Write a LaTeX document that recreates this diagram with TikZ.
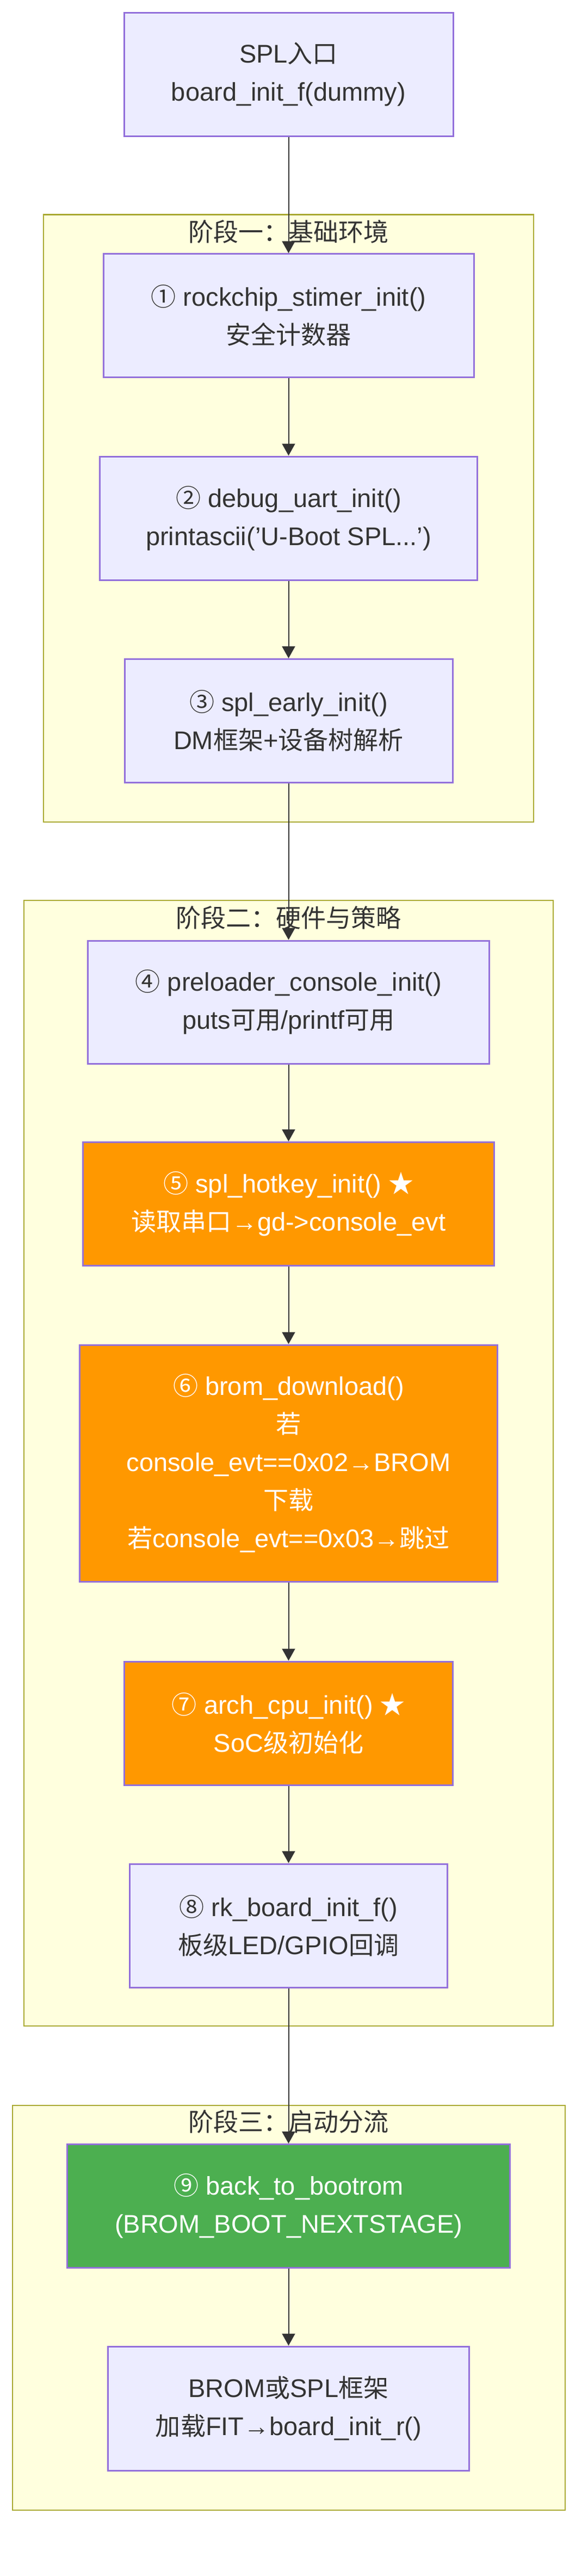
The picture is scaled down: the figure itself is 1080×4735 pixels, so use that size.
\documentclass[tikz,border=0pt]{standalone}
\usepackage{fontspec}
\setmainfont{Liberation Sans}
\newfontfamily\cjk{Noto Sans CJK SC}[Scale=0.98]
\usetikzlibrary{arrows.meta}
\definecolor{nfill}{HTML}{ECECFF}
\definecolor{nborder}{HTML}{9370DB}
\definecolor{cfill}{HTML}{FFFFDE}
\definecolor{cborder}{HTML}{AAAA33}
\definecolor{orangec}{HTML}{FF9800}
\definecolor{greenc}{HTML}{4CAF50}
\definecolor{tcol}{HTML}{333333}
\definecolor{ecol}{HTML}{333333}
\tikzset{
  box/.style={draw=nborder, line width=3pt, fill=nfill, text=tcol, align=center,
    inner sep=0pt, font=\fontsize{47}{70}\selectfont},
  hot/.style={box, fill=orangec, text=white},
  done/.style={box, fill=greenc, text=white},
  cluster/.style={draw=cborder, line width=2.5pt, fill=cfill, inner sep=0pt},
  ctitle/.style={text=tcol, inner sep=0pt, font=\fontsize{47}{56}\selectfont\cjk},
  flow/.style={draw=ecol, line width=2pt, -{Triangle[length=22pt,width=24pt]}},
}
\begin{document}
\begin{tikzpicture}[x=1pt,y=-1pt]
\useasboundingbox[fill=white] (0,0) rectangle (1080,4735);
% clusters
\node[cluster, minimum width=901pt, minimum height=1116.5pt] (stage1) at (530.5,952.75) {};
\node[cluster, minimum width=973pt, minimum height=2069pt] (stage2) at (530.5,2689.5) {};
\node[cluster, minimum width=1016pt, minimum height=744pt] (stage3) at (531,4242) {};
\node[ctitle] (t1) at (530.5,426) {阶段一：基础环境};
\node[ctitle] (t2) at (530.5,1687) {阶段二：硬件与策略};
\node[ctitle] (t3) at (530.5,3900) {阶段三：启动分流};
% nodes
\node[box, minimum width=605pt, minimum height=227pt] (start) at (530.5,136.5)
  {SPL{\cjk 入口}\\board\_init\_f(dummy)};
\node[box, minimum width=681pt, minimum height=227pt] (n1) at (530.5,580.3)
  {{\cjk ①} rockchip\_stimer\_init()\\{\cjk 安全计数器}};
\node[box, minimum width=694.5pt, minimum height=227pt] (n2) at (530.5,952.5)
  {{\cjk ②} debug\_uart\_init()\\printascii('U-Boot SPL...')};
\node[box, minimum width=603pt, minimum height=227pt] (n3) at (530.5,1325)
  {{\cjk ③} spl\_early\_init()\\DM{\cjk 框架}+{\cjk 设备树解析}};
\node[box, minimum width=738pt, minimum height=226pt] (n4) at (530.5,1842)
  {{\cjk ④} preloader\_console\_init()\\puts{\cjk 可用}/printf{\cjk 可用}};
\node[hot, minimum width=756pt, minimum height=227pt] (n5) at (530.5,2213)
  {{\cjk ⑤} spl\_hotkey\_init() {\cjk ★}\\{\cjk 读取串口}→gd->console\_evt};
\node[hot, minimum width=768.5pt, minimum height=435pt] (n6) at (530.5,2689.5)
  {{\cjk ⑥} brom\_download()\\{\cjk 若}\\console\_evt==0x02→BROM\\{\cjk 下载}\\{\cjk 若}console\_evt==0x03→{\cjk 跳过}};
\node[hot, minimum width=604.5pt, minimum height=227pt] (n7) at (530.5,3167.5)
  {{\cjk ⑦} arch\_cpu\_init() {\cjk ★}\\SoC{\cjk 级初始化}};
\node[box, minimum width=584pt, minimum height=227pt] (n8) at (530.5,3539.5)
  {{\cjk ⑧} rk\_board\_init\_f()\\{\cjk 板级}LED/GPIO{\cjk 回调}};
\node[done, minimum width=813.7pt, minimum height=227pt] (n9) at (530.5,4055)
  {{\cjk ⑨} back\_to\_bootrom\\(BROM\_BOOT\_NEXTSTAGE)};
\node[box, minimum width=664pt, minimum height=228pt] (n10) at (530.5,4427)
  {BROM{\cjk 或}SPL{\cjk 框架}\\{\cjk 加载}FIT→board\_init\_r()};
% edges
\draw[flow] (start) -- (n1);
\draw[flow] (n1) -- (n2);
\draw[flow] (n2) -- (n3);
\draw[flow] (n3) -- (n4);
\draw[flow] (n4) -- (n5);
\draw[flow] (n5) -- (n6);
\draw[flow] (n6) -- (n7);
\draw[flow] (n7) -- (n8);
\draw[flow] (n8) -- (n9);
\draw[flow] (n9) -- (n10);
\end{tikzpicture}
\end{document}
